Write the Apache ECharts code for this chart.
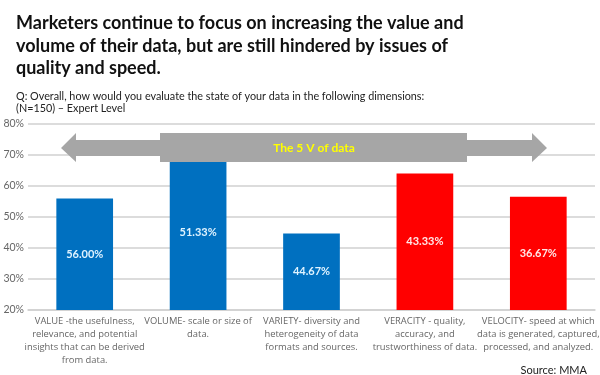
<!DOCTYPE html>
<html>
<head>
<meta charset="utf-8">
<script src="https://cdn.jsdelivr.net/npm/echarts@6/dist/echarts.min.js"></script>
<style>
  html, body { margin: 0; padding: 0; background: #fff; }
  #chart { width: 600px; height: 375px; }
</style>
</head>
<body>
<div id="chart"></div>
<script>
// data
const categories = [
  'VALUE -the usefulness,\nrelevance, and potential\ninsights that can be derived\nfrom data.',
  'VOLUME- scale or size of\ndata.',
  'VARIETY- diversity and\nheterogeneity of data\nformats and sources.',
  'VERACITY - quality,\naccuracy, and\ntrustworthiness of data.',
  'VELOCITY- speed at which\ndata is generated, captured,\nprocessed, and analyzed.'
];
const barHeights = [56, 70, 44.67, 64, 56.5];   // drawn heights (%)
const barLabels = ['56.00%', '51.33%', '44.67%', '43.33%', '36.67%'];
const barColors = ['#0070C0', '#0070C0', '#0070C0', '#FF0000', '#FF0000'];
const labelColors = ['#dff3ff', '#dff3ff', '#dff3ff', '#ffe8e8', '#ffe8e8'];
const yTicks = [20, 30, 40, 50, 60, 70, 80];

const FONT = 'Lato, "Open Sans", sans-serif';
const FONT2 = '"Open Sans", "Noto Sans", sans-serif';

const chart = echarts.init(document.getElementById('chart'));

const option = {
  backgroundColor: '#fff',
  animation: false,
  title: [
    {
      text: 'Marketers continue to focus on increasing the value and\nvolume of their data, but are still hindered by issues of\nquality and speed.',
      left: 11,
      top: 7,
      textStyle: { fontFamily: FONT, fontSize: 18, fontWeight: 'bold', color: '#111', lineHeight: 22.5 }
    },
    {
      text: 'Q: Overall, how would you evaluate the state of your data in the following dimensions:\n(N=150) \u2013 Expert Level',
      left: 11,
      top: 86,
      textStyle: { fontFamily: FONT, fontSize: 10.8, fontWeight: 'normal', color: '#222', lineHeight: 12 }
    },
    {
      text: 'Source: MMA',
      right: 8,
      top: 360,
      textStyle: { fontFamily: FONT, fontSize: 11, fontWeight: 'normal', color: '#222' }
    }
  ],
  grid: { left: 28, right: 5, top: 124, bottom: 65, outerBoundsMode: 'none' },
  xAxis: {
    type: 'category',
    data: categories,
    axisLine: { show: true, lineStyle: { color: '#d0d0d0', width: 1.5 } },
    axisTick: { show: false },
    axisLabel: {
      interval: 0,
      margin: 5,
      fontFamily: FONT2,
      fontSize: 9.4,
      lineHeight: 13,
      color: '#666',
      align: 'center'
    }
  },
  yAxis: {
    type: 'value',
    min: yTicks[0],
    max: yTicks[yTicks.length - 1],
    interval: 10,
    axisLine: { show: false },
    axisTick: { show: false },
    axisLabel: {
      fontFamily: FONT,
      fontSize: 10.5,
      color: '#666',
      margin: 4,
      formatter: v => v + '%'
    },
    splitLine: { lineStyle: { color: '#d0d0d0', width: 1.5 } }
  },
  series: [
    {
      type: 'bar',
      barWidth: '50%',
      data: barHeights.map((v, i) => ({
        value: v,
        itemStyle: { color: barColors[i] },
        label: { color: labelColors[i] }
      })),
      label: {
        show: true,
        position: 'inside',
        fontFamily: FONT,
        fontSize: 11,
        fontWeight: 'bold',
        formatter: p => barLabels[p.dataIndex]
      },
      z: 2
    }
  ],
  graphic: [
    {
      // the double-headed "5 V" arrow
      type: 'polygon',
      z: 100,
      shape: {
        points: [
          [61, 148], [76, 133], [76, 140], [160, 140], [160, 133],
          [467, 133], [467, 140], [532, 140], [532, 133], [547, 148],
          [532, 162], [532, 156], [467, 156], [467, 162],
          [160, 162], [160, 156], [76, 156], [76, 162]
        ]
      },
      style: { fill: '#a6a6a6' }
    },
    {
      type: 'text',
      z: 101,
      x: 314,
      y: 148,
      style: {
        text: 'The 5 V of data',
        fill: '#ffff00',
        font: 'bold 12px ' + FONT,
        align: 'center',
        verticalAlign: 'middle'
      }
    }
  ]
};

chart.setOption(option);
</script>
</body>
</html>
